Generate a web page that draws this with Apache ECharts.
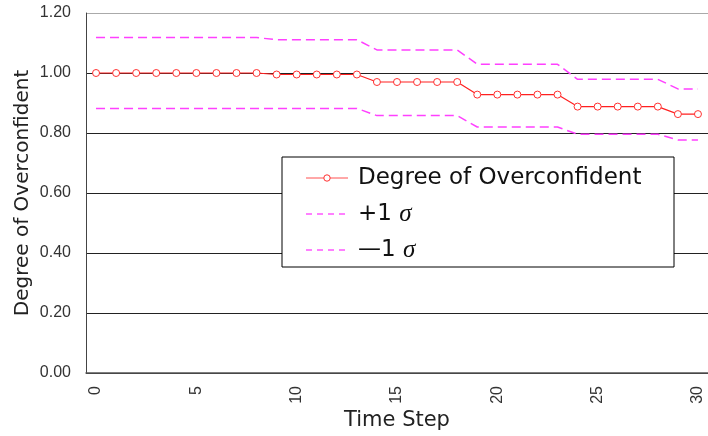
<!DOCTYPE html>
<html>
<head>
<meta charset="utf-8">
<script src="https://cdn.jsdelivr.net/npm/echarts@6/dist/echarts.min.js"></script>
<style>
  html, body { margin: 0; padding: 0; background: #fff; }
  #chart { width: 708px; height: 436px; }
</style>
</head>
<body>
<div id="chart"></div>
<script>
// time steps on the x axis
var steps = ['0', '1', '2', '3', '4', '5', '6', '7', '8', '9', '10', '11', '12', '13', '14', '15',
  '16', '17', '18', '19', '20', '21', '22', '23', '24', '25', '26', '27', '28', '29', '30']

// degree of overconfident (mean)
var overconf = [1.00, 1.00, 1.00, 1.00, 1.00, 1.00, 1.00, 1.00, 1.00,
  0.995, 0.995, 0.995, 0.995, 0.995,
  0.97, 0.97, 0.97, 0.97, 0.97,
  0.928, 0.928, 0.928, 0.928, 0.928,
  0.888, 0.888, 0.888, 0.888, 0.888,
  0.863, 0.863]

// mean + 1 sigma
var plusSigma = [1.118, 1.118, 1.118, 1.118, 1.118, 1.118, 1.118, 1.118, 1.118,
  1.111, 1.111, 1.111, 1.111, 1.111,
  1.077, 1.077, 1.077, 1.077, 1.077,
  1.029, 1.029, 1.029, 1.029, 1.029,
  0.979, 0.979, 0.979, 0.979, 0.979,
  0.947, 0.947]

// mean - 1 sigma
var minusSigma = [0.882, 0.882, 0.882, 0.882, 0.882, 0.882, 0.882, 0.882, 0.882,
  0.882, 0.882, 0.882, 0.882, 0.882,
  0.858, 0.858, 0.858, 0.858, 0.858,
  0.82, 0.82, 0.82, 0.82, 0.82,
  0.796, 0.796, 0.796, 0.796, 0.796,
  0.777, 0.777]

var labelFont = "'Liberation Sans Narrow', 'Liberation Sans', sans-serif"
var titleFont = "'DejaVu Sans', sans-serif"

var myChart = echarts.init(document.getElementById('chart'))

var option = {
  animation: false,
  backgroundColor: '#fff',
  grid: {
    left: 86,
    top: 13,
    bottom: 63,
    right: -5
  },
  legend: {
    orient: 'vertical',
    left: 282,
    top: 157,
    padding: [8, 26, 4, 23],
    itemWidth: 42,
    itemHeight: 8,
    itemGap: 10,
    backgroundColor: '#fff',
    borderColor: '#000',
    borderWidth: 1,
    borderRadius: 0,
    textStyle: {
      fontFamily: titleFont,
      fontSize: 23,
      color: '#111',
      lineHeight: 26,
      width: 290,
      padding: [0, 0, 0, 5],
      rich: {
        s: {
          fontFamily: "'Liberation Serif', serif",
          fontStyle: 'italic',
          fontSize: 25,
          color: '#111'
        }
      }
    },
    formatter: function (name) {
      if (name === '+1 σ') return '+1 {s|σ}'
      if (name === '—1 σ') return '—1 {s|σ}'
      return name
    },
    data: [
      {
        name: 'Degree of Overconfident',
        lineStyle: { color: '#ff5050', width: 1 },
        itemStyle: { color: '#fff', borderColor: '#ff3030', borderWidth: 1 }
      },
      {
        name: '+1 σ',
        lineStyle: { color: '#ff80ff', type: [6, 5] },
        itemStyle: { opacity: 0 }
      },
      {
        name: '—1 σ',
        lineStyle: { color: '#ff80ff', type: [6, 5] },
        itemStyle: { opacity: 0 }
      }
    ]
  },
  xAxis: {
    type: 'category',
    data: steps,
    boundaryGap: true,
    name: 'Time Step',
    nameLocation: 'middle',
    nameMoveOverlap: false,
    nameGap: 37,
    nameTextStyle: {
      fontFamily: titleFont,
      fontSize: 21,
      color: '#222'
    },
    axisLine: {
      lineStyle: { color: '#555', width: 1.5 }
    },
    axisTick: {
      inside: true,
      length: 5,
      interval: 0,
      lineStyle: { color: '#444' }
    },
    axisLabel: {
      interval: 4,
      rotate: 90,
      margin: 13,
      fontFamily: labelFont,
      fontSize: 16,
      color: '#333'
    },
    splitLine: { show: false }
  },
  yAxis: {
    type: 'value',
    min: 0,
    max: 1.2,
    interval: 0.2,
    name: 'Degree of Overconfident',
    nameLocation: 'middle',
    nameMoveOverlap: false,
    nameGap: 53,
    nameTextStyle: {
      fontFamily: titleFont,
      fontSize: 20,
      color: '#222'
    },
    axisLine: {
      show: true,
      lineStyle: { color: '#444', width: 1 }
    },
    axisTick: { show: false },
    axisLabel: {
      margin: 15,
      fontFamily: labelFont,
      fontSize: 16,
      color: '#333',
      formatter: function (v) { return v.toFixed(2) }
    },
    splitLine: {
      lineStyle: {
        color: ['#222', '#222', '#222', '#222', '#222', '#222', '#aaa'],
        width: 1
      }
    }
  },
  series: [
    {
      name: 'Degree of Overconfident',
      type: 'line',
      data: overconf,
      z: 4,
      symbol: 'circle',
      symbolSize: 7,
      color: '#ff2020',
      lineStyle: { color: '#ff2020', width: 1.2 },
      itemStyle: { color: '#fff', borderColor: '#ff3030', borderWidth: 1 }
    },
    {
      name: '+1 σ',
      type: 'line',
      data: plusSigma,
      symbol: 'none',
      color: '#ff40ff',
      lineStyle: { color: '#ff40ff', width: 1.5, type: [9, 5] }
    },
    {
      name: '—1 σ',
      type: 'line',
      data: minusSigma,
      symbol: 'none',
      color: '#ff40ff',
      lineStyle: { color: '#ff40ff', width: 1.5, type: [9, 5] }
    }
  ]
}

myChart.setOption(option)
</script>
</body>
</html>
